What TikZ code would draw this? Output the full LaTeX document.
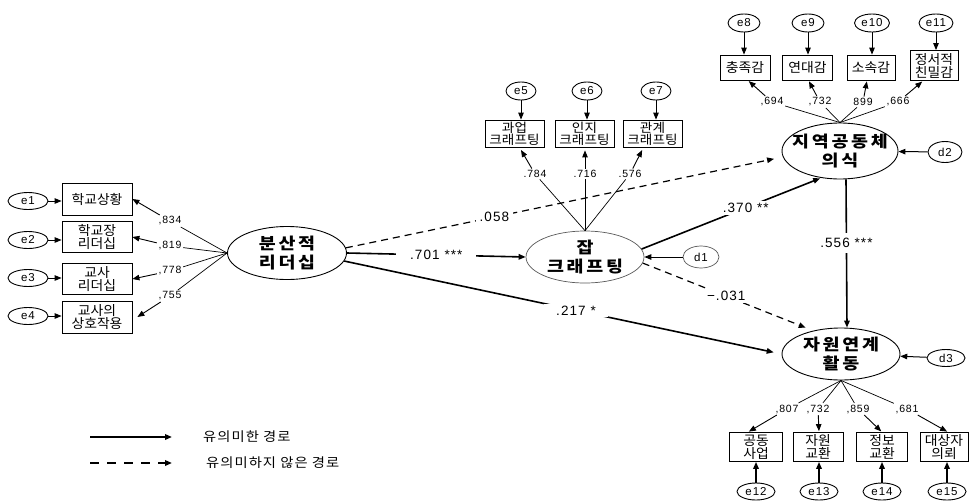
\documentclass[tikz,border=0pt]{standalone}
\usepackage{fontspec}
\setmainfont{Liberation Sans}
\newfontfamily\kr{Noto Sans CJK KR}[FakeStretch=1.04]
\newfontfamily\krj{Noto Sans CJK KR}[FakeStretch=1.08]
\newfontfamily\krleg{Noto Sans CJK KR}[FakeStretch=1.1,LetterSpace=8]
\newfontfamily\krlat{Noto Sans CJK KR}[FakeStretch=1.15,LetterSpace=17]
\newfontfamily\numf{Liberation Sans}[LetterSpace=8]
\newfontfamily\pathf{Liberation Sans}[LetterSpace=8]
\newcommand\latfont{\krlat\bfseries\fontsize{16}{18.5}\selectfont}
\newcommand\indfont{\kr\fontsize{13.3}{13}\selectfont}
\newcommand\jindfont{\krj\fontsize{12.6}{12.3}\selectfont}
\newcommand\legfont{\krleg\fontsize{13}{14}\selectfont}
\newcommand\errfont{\numf\fontsize{11.5}{12}\selectfont}
\newcommand\ldfont{\numf\fontsize{10.5}{12}\selectfont}
\newcommand\plfont{\pathf\fontsize{13.5}{15}\selectfont}
\usetikzlibrary{shapes.geometric,arrows.meta,calc}
\begin{document}
\begin{tikzpicture}[x=1pt,y=-1pt,
  >={Triangle[length=7pt,width=5.5pt]},
  lat/.style={draw,ellipse,line width=0.9pt,inner sep=0pt},
  lattext/.style={inner sep=0pt,align=center,font=\latfont},
  ind/.style={draw,rectangle,line width=0.8pt,inner sep=0pt,align=center,font=\indfont},
  jind/.style={ind,font=\jindfont,minimum width=59pt,minimum height=27pt},
  err/.style={draw,ellipse,line width=0.9pt,inner sep=0pt,font=\errfont,minimum width=34pt,minimum height=18pt},
  ld/.style={inner sep=1.5pt,font=\ldfont},
  pl/.style={fill=white,inner ysep=2pt,inner xsep=10pt,font=\plfont},
  ldline/.style={line width=0.7pt},
  ldarr/.style={line width=0.9pt,->},
  errarr/.style={line width=1pt,->},
  sig/.style={line width=1.6pt,->},
  nsig/.style={line width=1.2pt,dash pattern=on 7pt off 5pt,->},
]
\fill[white] (0,0) rectangle (972,501);
\useasboundingbox (0,0) rectangle (972,501);

% ---------- left block: distributed leadership ----------
\node[err,minimum width=40pt,minimum height=17pt] (e1) at (28,201) {e1};
\node[err,minimum width=40pt,minimum height=17pt] (e2) at (28,240) {e2};
\node[err,minimum width=40pt,minimum height=17pt] (e3) at (28,278) {e3};
\node[err,minimum width=40pt,minimum height=17pt] (e4) at (28,316) {e4};
\node[ind,minimum width=70pt,minimum height=32pt] (b1) at (97,199) {학교상황};
\node[ind,minimum width=70pt,minimum height=31pt] (b2) at (97,237) {학교장\\리더십};
\node[ind,minimum width=70pt,minimum height=31pt] (b3) at (97,279) {교사\\리더십};
\node[ind,minimum width=70pt,minimum height=32pt] (b4) at (97,317) {교사의\\상호작용};
\foreach \i in {1,2,3,4} \draw[errarr] (e\i) -- (e\i -| b\i.west);

\node[lat,minimum width=119pt,minimum height=53pt] (dist) at (287,253) {};
\node[lattext] (distt) at (dist) {분산적\\리더십};

\node[ld] (l834) at (170,221) {,834};
\node[ld] (l819) at (170,246) {,819};
\node[ld] (l778) at (170,271) {,778};
\node[ld] (l755) at (170,296) {,755};
\draw[ldline] (dist.west) -- (l834); \draw[ldarr] (l834) -- (b1.east);
\draw[ldline] (dist.west) -- (l819); \draw[ldarr] (l819) -- (b2.east);
\draw[ldline] (dist.west) -- (l778); \draw[ldarr] (l778) -- (b3.east);
\draw[ldline] (dist.west) -- (l755); \draw[ldarr] (l755) -- ([xshift=5pt]b4.east);

% ---------- job crafting ----------
\node[lat,draw=black!65,line width=0.7pt,minimum width=118pt,minimum height=52pt] (jab) at (585,257) {};
\node[lattext] (jabt) at (jab) {잡\\크래프팅};
\node[err,draw=black!65,line width=0.7pt,minimum width=36pt,minimum height=22pt] (d1) at (701,257) {d1};
\draw[errarr] (d1) -- (jab);

\node[jind] (j1) at (514.5,133.5) {과업\\크래프팅};
\node[jind] (j2) at (584.5,133.5) {인지\\크래프팅};
\node[jind] (j3) at (652.5,133.5) {관계\\크래프팅};
\node[err,minimum width=30pt] (e5) at (521,91) {e5};
\node[err,minimum width=30pt] (e6) at (587,91) {e6};
\node[err,minimum width=30pt] (e7) at (656,91) {e7};
\draw[errarr] (e5.south) -- (e5.south |- j1.north);
\draw[errarr] (e6.south) -- (e6.south |- j2.north);
\draw[errarr] (e7.south) -- (e7.south |- j3.north);

\node[ld] (l784) at (535,174) {.784};
\node[ld] (l716) at (585,174) {.716};
\node[ld] (l576) at (630,174) {.576};
\draw[ldline] (jab.north) -- (l784); \draw[ldarr,shorten >=3pt] (l784) -- ([xshift=5pt]j1.south);
\draw[ldline] (jab.north) -- (l716); \draw[ldarr,shorten >=3pt] (l716) -- (l716 |- j2.south);
\draw[ldline] (jab.north) -- (l576); \draw[ldarr,shorten >=3pt] (l576) -- ([xshift=-9pt]j3.south);

% ---------- sense of community ----------
\node[lat,minimum width=116pt,minimum height=56pt] (com) at (840,151) {};
\node[lattext] (comt) at (com) {지역공동체\\의식};
\node[err,minimum width=34pt,minimum height=21pt] (d2) at (945,152) {d2};
\draw[errarr] (d2) -- (com);

\node[ind,minimum width=50pt,minimum height=25pt] (c1) at (745,67.5) {충족감};
\node[ind,minimum width=50pt,minimum height=25pt] (c2) at (807.5,67.5) {연대감};
\node[ind,minimum width=48pt,minimum height=25pt] (c3) at (871,67.5) {소속감};
\node[ind,minimum width=48pt,minimum height=30pt] (c4) at (934,65.5) {정서적\\친밀감};
\node[err,minimum width=32pt] (e8) at (744,23) {e8};
\node[err,minimum width=32pt] (e9) at (808,23) {e9};
\node[err,minimum width=35pt] (e10) at (872,23) {e10};
\node[err,minimum width=34pt] (e11) at (936,23) {e11};
\draw[errarr] (e8.south) -- (e8.south |- c1.north);
\draw[errarr] (e9.south) -- (e9.south |- c2.north);
\draw[errarr] (e10.south) -- (e10.south |- c3.north);
\draw[errarr] (e11.south) -- (e11.south |- c4.north);

\node[ld] (l694) at (772,102) {,694};
\node[ld] (l732a) at (820,102) {,732};
\node[ld] (l899) at (863,102) {899};
\node[ld] (l666) at (898,102) {,666};
\draw[ldline] (com.north) -- (l694); \draw[ldarr,shorten >=1pt] (l694) -- ([xshift=3pt]c1.south);
\draw[ldline] (com.north) -- (l732a); \draw[ldarr,shorten >=1pt] (l732a) -- ([xshift=1pt]c2.south);
\draw[ldline] (com.north) -- (l899); \draw[ldarr,shorten >=1pt] (l899) -- ([xshift=-4pt]c3.south);
\draw[ldline] (com.north) -- (l666); \draw[ldarr,shorten >=1pt] (l666) -- ([xshift=-11pt]c4.south);

% ---------- resource linking ----------
\node[lat,minimum width=118pt,minimum height=52pt] (res) at (841,354) {};
\node[lattext] (rest) at (res) {자원연계\\활동};
\node[err,minimum width=38pt,minimum height=17pt] (d3) at (946,358) {d3};
\draw[errarr] (d3) -- (res);

\node[ind,minimum width=53pt,minimum height=29pt] (r1) at (756,447) {공동\\사업};
\node[ind,minimum width=50pt,minimum height=29pt] (r2) at (818,447) {자원\\교환};
\node[ind,minimum width=51pt,minimum height=29pt] (r3) at (882,447) {정보\\교환};
\node[ind,minimum width=48pt,minimum height=29pt] (r4) at (944,447) {대상자\\의뢰};
\node[err,minimum width=38pt,minimum height=17pt] (e12) at (756,491.5) {e12};
\node[err,minimum width=38pt,minimum height=17pt] (e13) at (819,491.5) {e13};
\node[err,minimum width=38pt,minimum height=17pt] (e14) at (882,491.5) {e14};
\node[err,minimum width=38pt,minimum height=17pt] (e15) at (947,491.5) {e15};
\draw[sig] (e12.north) -- (e12.north |- r1.south);
\draw[sig] (e13.north) -- (e13.north |- r2.south);
\draw[sig] (e14.north) -- (e14.north |- r3.south);
\draw[sig] (e15.north) -- (e15.north |- r4.south);

\node[ld] (l807) at (787,409) {,807};
\node[ld] (l732b) at (818,409) {,732};
\node[ld] (l859) at (858,409) {,859};
\node[ld] (l681) at (907,409) {,681};
\draw[ldline] (res.south) -- (l807); \draw[ldarr,shorten >=1pt] (l807) -- ([xshift=-8pt]r1.north);
\draw[ldline] (res.south) -- (l732b); \draw[ldarr,shorten >=1pt] (l732b) -- ([xshift=1pt]r2.north);
\draw[ldline] (res.south) -- (l859); \draw[ldarr,shorten >=1pt] (l859) -- (r3.north);
\draw[ldline] (res.south) -- (l681); \draw[ldarr,shorten >=1pt] (l681) -- ([xshift=4pt]r4.north);

% ---------- structural paths ----------
\draw[sig] (dist.east) -- node[pl,inner xsep=14pt] (p701) {.701 ***} (jab.west);
\draw[nsig,shorten >=9pt] (dist.5) -- node[pl,pos=0.34,inner xsep=4pt] (p058) {.058} (com.186);
\draw[sig,shorten >=1pt] (jab.8) -- node[pl,pos=0.58,inner xsep=5pt] (p370) {.370 **} (com.235);
\draw[sig,shorten >=8pt] (dist.-8) -- node[pl,pos=0.53,inner xsep=12pt] (p217) {.217 *} (res.180);
\draw[nsig,shorten >=8pt] (jab.-6) -- node[pl,pos=0.49,inner xsep=8pt] (p031) {−.031} (res.140);
\draw[sig] ([xshift=6pt]com.south) -- node[pl,pos=0.43,inner xsep=3pt,inner ysep=5pt] (p556) {.556 ***} ([xshift=6pt]res.north);

% ---------- legend ----------
\coordinate (la1) at (90,437); \coordinate (la2) at (172,437);
\draw[line width=1.8pt,->] (la1) -- (la2);
\node[anchor=west,inner sep=0pt,font=\legfont] (lt1) at (203,437) {유의미한 경로};
\coordinate (lb1) at (90,463); \coordinate (lb2) at (172,463);
\draw[line width=1.8pt,dash pattern=on 9pt off 8pt,->] (lb1) -- (lb2);
\node[anchor=west,inner sep=0pt,font=\legfont] (lt2) at (206,463) {유의미하지 않은 경로};
\end{tikzpicture}
\end{document}
